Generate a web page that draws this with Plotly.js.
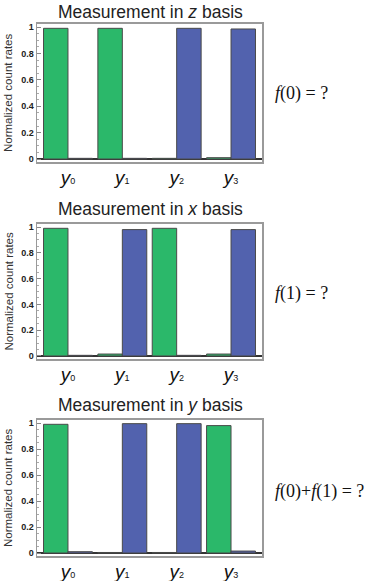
<!DOCTYPE html>
<html>
<head>
<meta charset="utf-8">
<script src="https://cdn.plot.ly/plotly-3.0.1.min.js"></script>
<style>
  html, body { margin: 0; padding: 0; background: #fff; }
  #chart { width: 374px; height: 581px; }
</style>
</head>
<body>
<div id="chart"></div>
<script>
// outcomes y0..y3, two detector bars per outcome
const categories = ["0", "1", "2", "3"];
const bases = ["z", "x", "y"];
const sideLabels = ["<i>f</i>(0) = ?", "<i>f</i>(1) = ?", "<i>f</i>(0)+<i>f</i>(1) = ?"];

const greenZ = [0.99, 0.99, 0.005, 0.01];
const blueZ = [0.005, 0.005, 0.99, 0.985];
const greenX = [0.99, 0.015, 0.99, 0.015];
const blueX = [0.005, 0.98, 0.005, 0.98];
const greenY = [0.99, 0.004, 0.004, 0.98];
const blueY = [0.01, 0.995, 0.995, 0.015];

const yTicks = [0, 0.2, 0.4, 0.6, 0.8, 1];

const GREEN = "#2bb86a";
const BLUE = "#5262ae";

const greens = [greenZ, greenX, greenY];
const blues = [blueZ, blueX, blueY];

// panel pixel boxes (top, bottom) in a 581 px tall page
const H = 581;
const boxes = [[23.7, 162.3], [223.8, 359.2], [419.75, 556.25]];
const titleY = [12, 209, 405];
const sideY = [93, 293, 491];

function py(p) { return 1 - p / H; }

const xs = categories.map((c, i) => i);
const traces = [];
greens.forEach((g, k) => {
    const suffix = k === 0 ? "" : String(k + 1);
    traces.push({
        type: "bar", x: xs, y: g,
        marker: { color: GREEN, line: { color: "#4a4a4a", width: 1 } },
        xaxis: "x" + suffix, yaxis: "y" + suffix
    });
    traces.push({
        type: "bar", x: xs, y: blues[k],
        marker: { color: BLUE, line: { color: "#4a4a4a", width: 1 } },
        xaxis: "x" + suffix, yaxis: "y" + suffix
    });
});

const layout = {
    width: 374,
    height: 581,
    showlegend: false,
    barmode: "group",
    bargap: 0.1,
    bargroupgap: 0,
    margin: { l: 0, r: 0, t: 0, b: 0 },
    paper_bgcolor: "#fff",
    plot_bgcolor: "#fff",
    annotations: [],
    font: { family: "Liberation Sans, Arial, sans-serif" }
};

boxes.forEach((b, k) => {
    const suffix = k === 0 ? "" : String(k + 1);
    layout["xaxis" + suffix] = {
        domain: [37 / 374, 262 / 374],
        anchor: "y" + suffix,
        range: [-0.57, 3.57],
        tickvals: xs,
        ticktext: categories.map(c => "<i>y</i><span style='font-size:9px'>" + c + "</span>"),
        tickfont: { size: 19, color: "#111", family: "Liberation Sans, Arial, sans-serif" },
        ticks: "",
        ticklabelstandoff: -3,
        showgrid: false,
        zeroline: false,
        showline: true,
        mirror: true,
        linecolor: "#9a9a9a",
        linewidth: 1.5,
        fixedrange: true
    };
    layout["yaxis" + suffix] = {
        domain: [py(b[1]), py(b[0])],
        anchor: "x" + suffix,
        range: [-0.025, 1.025],
        tickvals: yTicks,
        ticktext: yTicks.map(v => "<b>" + v + "</b>"),
        tickfont: { size: 9, color: "#222" },
        ticks: "inside",
        ticklen: 4,
        tickcolor: "#888",
        minor: { ticks: "inside", ticklen: 2, tickcolor: "#aaa", dtick: 0.05 },
        showgrid: false,
        zeroline: true,
        zerolinecolor: "#333",
        zerolinewidth: 1.5,
        showline: true,
        mirror: true,
        linecolor: "#9a9a9a",
        linewidth: 1.5,
        fixedrange: true
    };
    layout.annotations.push({
        text: "Measurement in <i>" + bases[k] + "</i> basis",
        xref: "paper", yref: "paper",
        x: 150 / 374, y: py(titleY[k]),
        xanchor: "center", yanchor: "middle",
        showarrow: false,
        font: { size: 17.5, color: "#222" }
    });
    layout.annotations.push({
        text: "Normalized count rates",
        xref: "paper", yref: "paper",
        x: 8 / 374, y: py((b[0] + b[1]) / 2),
        xanchor: "center", yanchor: "middle",
        textangle: -90,
        showarrow: false,
        font: { size: 11.5, color: "#333" }
    });
    layout.annotations.push({
        text: sideLabels[k],
        xref: "paper", yref: "paper",
        x: 273 / 374, y: py(sideY[k]),
        xanchor: "left", yanchor: "middle",
        showarrow: false,
        font: { size: 18, color: "#111", family: "Liberation Serif, Times New Roman, serif" }
    });
});

const config = { displayModeBar: false, staticPlot: true };

Plotly.newPlot("chart", traces, layout, config);
</script>
</body>
</html>
